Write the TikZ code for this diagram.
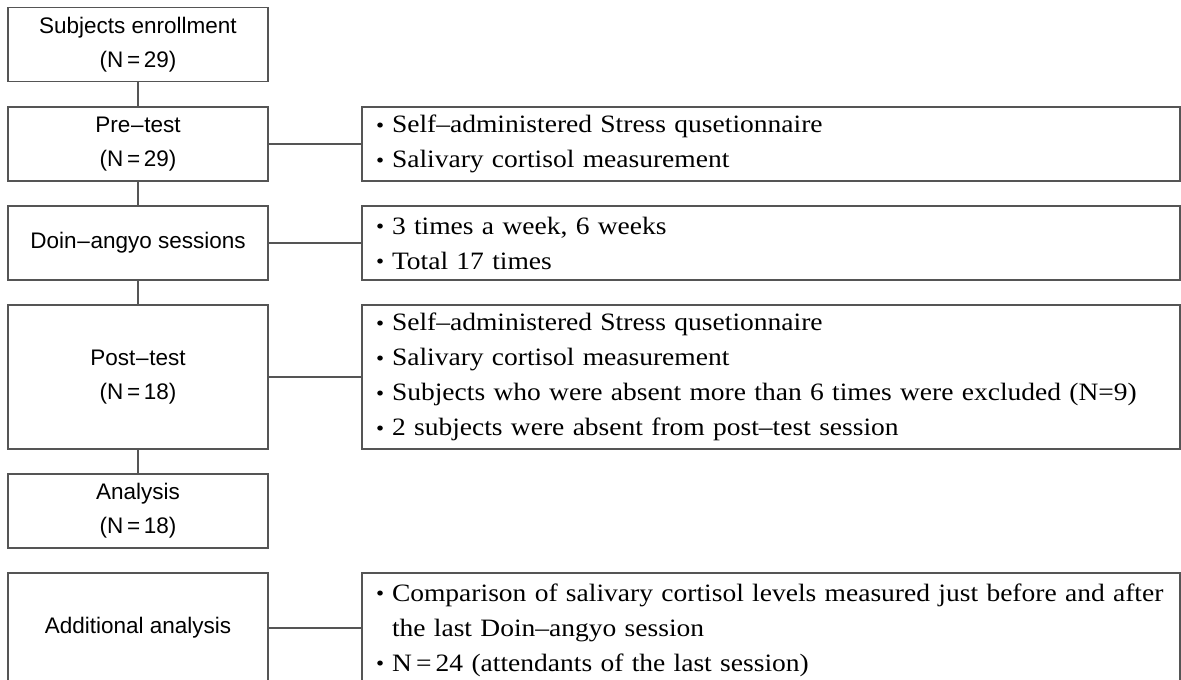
\documentclass[tikz,border=0pt]{standalone}
\usepackage{fontspec}
\setmainfont{Liberation Sans}
\newfontfamily\lfont{Liberation Sans}
\newfontfamily\rfont[FakeStretch=1.1]{Liberation Serif}
\newcommand{\bul}{\makebox[17pt][l]{\hspace*{1pt}\raisebox{0.5pt}{\fontsize{21}{21}\selectfont •}}}
\newcommand{\ldash}{\makebox[14pt][c]{–}}
\begin{document}
\begin{tikzpicture}[x=1pt,y=-1pt,
  line/.style={draw={rgb,255:red,85;green,85;blue,85},line width=1.2pt},
  lbox/.style={line,minimum width=260pt,inner sep=0pt,align=center,
    font={\lfont\fontsize{22.5}{34}\selectfont}},
  rbox/.style={line,minimum width=818pt,text width=792pt,inner xsep=13pt,inner ysep=0pt,align=left,
    font={\rfont\fontsize{25}{35}\selectfont}}]
\useasboundingbox (0,0) rectangle (1181,680);
\clip (0,0) rectangle (1181,680);
\fill[white] (0,0) rectangle (1181,680);
% left column
\node[lbox,minimum height=74pt] (enroll) at (138,44.5) {Subjects enrollment\\(N\,=\,29)};
\node[lbox,minimum height=74pt] (pre) at (138,144) {Pre\ldash test\\(N\,=\,29)};
\node[lbox,minimum height=74pt] (doin) at (138,243) {Doin\ldash angyo sessions};
\node[lbox,minimum height=144pt] (post) at (138,377) {Post\ldash test\\(N\,=\,18)};
\node[lbox,minimum height=74pt] (anal) at (138,511) {Analysis\\(N\,=\,18)};
\node[lbox,minimum height=110pt] (add) at (138,628) {Additional analysis};
% right column
\node[rbox,minimum height=74pt] (r1) at (771,144) {\bul Self–administered Stress qusetionnaire\\\bul Salivary cortisol measurement};
\node[rbox,minimum height=74pt] (r2) at (771,243) {\bul 3 times a week, 6 weeks\\\bul Total 17 times};
\node[rbox,minimum height=144pt] (r3) at (771,377) {\bul Self–administered Stress qusetionnaire\\\bul Salivary cortisol measurement\\\bul Subjects who were absent more than 6 times were excluded (N=9)\\\bul 2 subjects were absent from post–test session};
\node[rbox,minimum height=114pt] (r4) at (771,630) {\bul Comparison of salivary cortisol levels measured just before and after\\\hphantom{\bul}the last Doin–angyo session\\\bul N\,=\,24 (attendants of the last session)};
% connectors
\draw[line] (enroll.south) -- (pre.north);
\draw[line] (pre.south) -- (doin.north);
\draw[line] (doin.south) -- (post.north);
\draw[line] (post.south) -- (anal.north);
\draw[line] (pre.east) -- (r1.west);
\draw[line] (doin.east) -- (r2.west);
\draw[line] (post.east) -- (r3.west);
\draw[line] (add.east) -- (add.east -| r4.west);
\end{tikzpicture}
\end{document}
